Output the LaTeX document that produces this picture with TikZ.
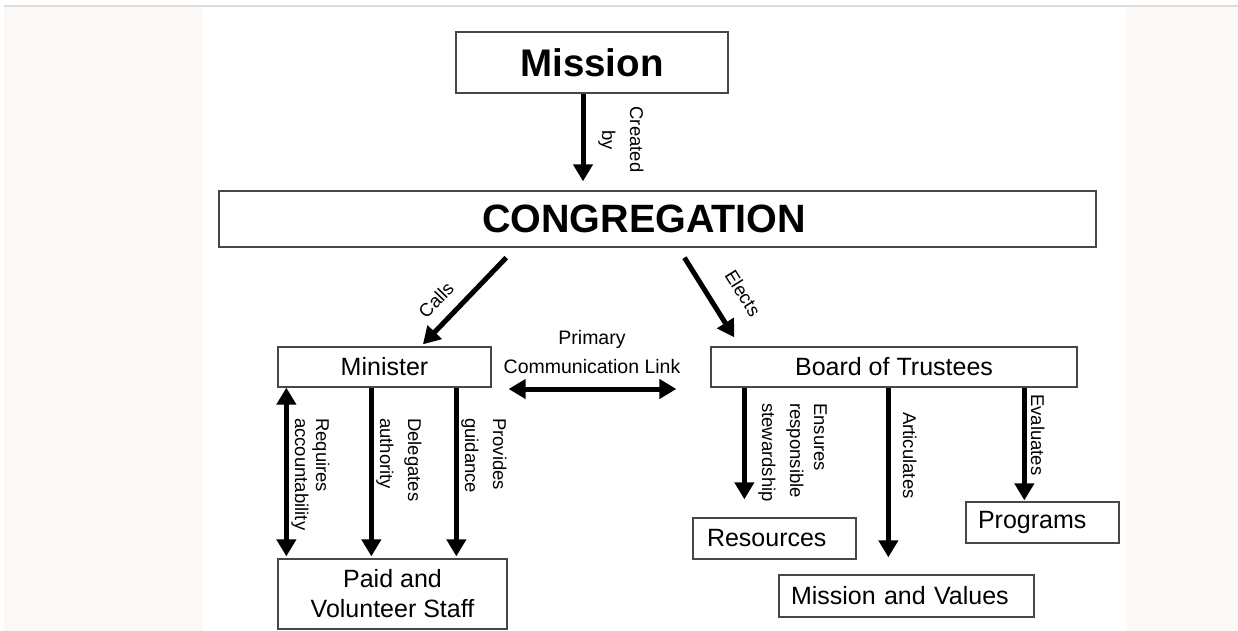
\documentclass[tikz,border=0pt]{standalone}
\usepackage{fontspec}
\setmainfont{Liberation Sans}
\usetikzlibrary{arrows.meta,calc}
\definecolor{bgbeige}{HTML}{FBF8F5}
\definecolor{topline}{HTML}{DCDCDC}
\begin{document}
\begin{tikzpicture}[x=1pt,y=-1pt,
  box/.style={draw=black!72, line width=1.3pt, fill=white, inner sep=0pt, font=\fontsize{25}{30}\selectfont},
  bigbox/.style={box, font=\fontsize{38.5}{44}\selectfont\bfseries},
  arr/.style={line width=5pt, -{Triangle[length=17pt,width=19pt]}},
  darr/.style={line width=5pt, {Triangle[length=17pt,width=19pt]}-{Triangle[length=17pt,width=19pt]}},
  lab/.style={font=\fontsize{18.5}{22}\selectfont, inner sep=0pt},
  vlab/.style={lab, rotate=-90, anchor=base west},
]
\useasboundingbox (0,0) rectangle (1238,631);
\fill[white] (0,0) rectangle (1238,631);
\fill[bgbeige] (4,7) rectangle (203,631);
\fill[bgbeige] (1127,7) rectangle (1238,631);
\draw[topline, line width=1.5pt] (4,6) -- (1238,6);

% boxes
\node[bigbox, minimum width=272pt, minimum height=61pt] (mission) at (592,62.5) {Mission};
\node[bigbox, minimum width=877pt, minimum height=56pt, text width=351pt, inner xsep=263pt, align=left, font=\fontsize{39.5}{44}\selectfont\bfseries] (cong) at (657.5,219) {CONGREGATION};
\node[box, minimum width=213pt, minimum height=40pt] (minister) at (384.5,367) {Minister};
\node[box, minimum width=366pt, minimum height=40pt] (board) at (894,367) {Board of Trustees};
\node[box, minimum width=229pt, minimum height=70pt, align=center] (staff) at (392.5,594) {Paid and\\Volunteer Staff};
\node[box, minimum width=163pt, minimum height=41pt, text width=135pt, inner xsep=14pt, align=left] (res) at (774.5,538.5) {Resources};
\node[box, minimum width=153pt, minimum height=41pt, text width=129pt, inner xsep=12pt, align=left] (prog) at (1042.5,522.5) {Programs};
\node[box, minimum width=255pt, minimum height=42pt, text width=231pt, inner xsep=12pt, align=left] (mv) at (906.5,596) {Mission and Values};

% connectors
\draw[arr, shorten >=9pt] ([xshift=-9pt]mission.south) -- ([xshift=-9pt]mission.south |- cong.north);
\draw[arr, shorten <=13.8pt, shorten >=2.8pt] ([xshift=297.5pt]cong.south west) -- ([xshift=36.5pt]minister.north);
\draw[arr, shorten <=11.8pt, shorten >=10.6pt] ([xshift=459.8pt]cong.south west) -- ([xshift=29.6pt]board.north west);
\draw[darr, shorten <=17pt, shorten >=34pt] ([yshift=-22pt]minister.east) -- ([yshift=-22pt]board.west);

\draw[darr, shorten >=2pt] ([xshift=9pt]minister.south west) -- ([xshift=9pt]staff.north west);
\draw[arr, shorten >=2pt] ([xshift=94pt]minister.south west) -- ([xshift=94pt]staff.north west);
\draw[arr, shorten >=2pt] ([xshift=179pt]minister.south west) -- ([xshift=179pt]staff.north west);

\draw[arr, shorten >=18pt] ([xshift=34pt]board.south west) -- ([xshift=34pt]board.south west |- res.north);
\draw[arr, shorten >=17pt] ([xshift=178pt]board.south west) -- ([xshift=178pt]board.south west |- mv.north);
\draw[arr, shorten >=1pt] ([xshift=314pt]board.south west) -- ([xshift=314pt]board.south west |- prog.north);

% labels
\node[lab, rotate=-90, anchor=base] (lcreated) at (630,139.5) {Created};
\node[lab, rotate=-90, anchor=base] (lby) at (602,140) {by};
\node[lab, rotate=46] (lcalls) at (436,300) {Calls};
\node[lab, rotate=-58] (lelects) at (743,293) {Elects};
\node[font=\fontsize{19.5}{29}\selectfont, align=center, inner sep=0pt] (lcomm) at (592,352.5) {Primary\\Communication Link};

\node[vlab] (lreq1) at (316,418) {Requires};
\node[vlab] (lreq2) at (295,418) {accountability};
\node[vlab] (ldel1) at (408,418) {Delegates};
\node[vlab] (ldel2) at (380,418) {authority};
\node[vlab] (lpro1) at (493,418) {Provides};
\node[vlab] (lpro2) at (465,418) {guidance};

\node[vlab] (lens1) at (814,403) {Ensures};
\node[vlab] (lens2) at (790,403) {responsible};
\node[vlab] (lens3) at (762,403) {stewardship};
\node[vlab] (lart) at (903,412) {Articulates};
\node[vlab] (leva) at (1031,394) {Evaluates};
\end{tikzpicture}
\end{document}
